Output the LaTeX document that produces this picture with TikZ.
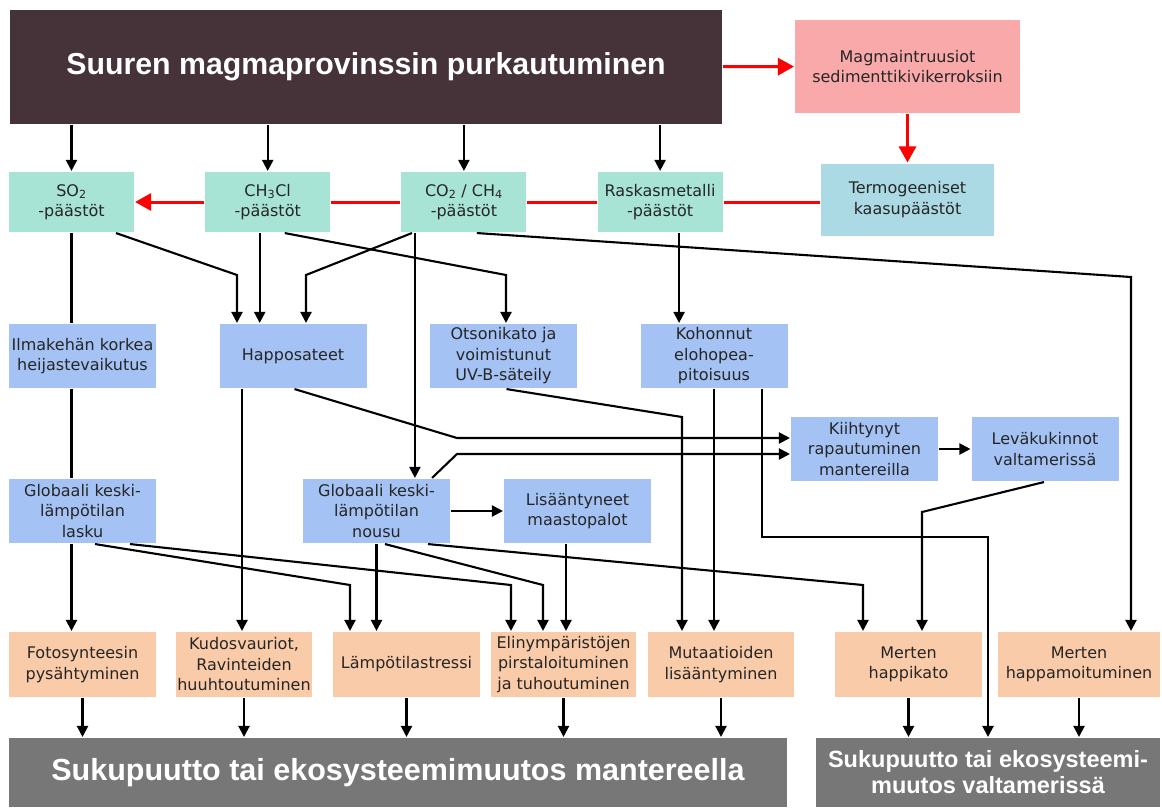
\documentclass[tikz,border=0pt]{standalone}
\usepackage{fontspec}
\setmainfont{DejaVu Sans}
\newfontfamily\headfont{Liberation Sans}
\usetikzlibrary{arrows.meta,positioning}
\definecolor{lipdark}{HTML}{463339}
\definecolor{intrpink}{HTML}{F9A9A9}
\definecolor{gasblue}{HTML}{ABD9E4}
\definecolor{emisgreen}{HTML}{A8E4D5}
\definecolor{effblue}{HTML}{A4C2F4}
\definecolor{impactorange}{HTML}{F9CBA8}
\definecolor{endgrey}{HTML}{777777}

\begin{document}
\begin{tikzpicture}[x=1pt,y=-1pt,->,>={Triangle[length=11pt,width=11pt]},
                    line width=2.1pt,node distance=196.2pt,
  box/.style={rectangle,inner sep=0pt,align=center,text=black!85,
              font=\fontsize{16}{20.5}\selectfont},
  emis/.style={box,fill=emisgreen,minimum width=125pt,minimum height=60pt},
  effect/.style={box,fill=effblue,minimum width=147pt,minimum height=64pt},
  impact/.style={box,fill=impactorange,minimum width=147pt,minimum height=65pt},
  outcome/.style={rectangle,inner sep=0pt,align=center,fill=endgrey,text=white,
              minimum height=69pt,font=\headfont\bfseries\fontsize{30.5}{30}\selectfont},
  redline/.style={-,draw=red,line width=3pt},
  redarrow/.style={redline,-{Triangle[length=16pt,width=17pt]}}]

 \useasboundingbox (0,0) rectangle (1162,807);

 % sources
 \node[rectangle,fill=lipdark,text=white,minimum width=712pt,minimum height=114pt,
       font=\headfont\bfseries\fontsize{30.3}{36}\selectfont] (lip) at (366,67)
       {Suuren magmaprovinssin purkautuminen};
 \node[box,fill=intrpink,minimum width=225pt,minimum height=93pt] (intr) at (907.5,66.5)
       {Magmaintruusiot\\sedimenttikivikerroksiin};
 \node[box,fill=gasblue,minimum width=173pt,minimum height=72pt] (termo) at (907.5,199.5)
       {Termogeeniset\\kaasupäästöt};

 % emissions
 \node[emis] (so2) at (71.5,202)   {SO\textsubscript{2}\\-päästöt};
 \node[emis] (ch3cl) [right of=so2] {CH\textsubscript{3}Cl\\-päästöt};
 \node[emis] (co2) [right of=ch3cl] {CO\textsubscript{2} / CH\textsubscript{4}\\-päästöt};
 \node[emis] (metal) [right of=co2] {Raskasmetalli\\-päästöt};

 % effects
 \node[effect] (ilma) at (82.5,356) {Ilmakehän korkea\\heijastevaikutus};
 \node[effect] (acid) [right of=ilma,node distance=210.5pt] {Happosateet};
 \node[effect] (ozone) [right of=acid,node distance=210.5pt] {Otsonikato ja\\voimistunut\\UV-B-säteily};
 \node[effect] (hg) [right of=ozone,node distance=210.5pt] {Kohonnut\\elohopea-\\pitoisuus};
 \node[effect] (weather) at (864.5,449) {Kiihtynyt\\rapautuminen\\mantereilla};
 \node[effect] (algae) [right of=weather,node distance=180.5pt] {Leväkukinnot\\valtamerissä};
 \node[effect] (cool) at (82.5,511) {Globaali keski-\\lämpötilan\\lasku};
 \node[effect] (warm) at (376.5,511) {Globaali keski-\\lämpötilan\\nousu};
 \node[effect] (fires) [right of=warm,node distance=201pt] {Lisääntyneet\\maastopalot};

 % impacts
 \node[impact] (photo) at (82.5,664.5) {Fotosynteesin\\pysähtyminen};
 \node[impact,minimum width=136pt] (tissue) at (244,664.5) {Kudosvauriot,\\Ravinteiden\\huuhtoutuminen};
 \node[impact] (heat) at (406.5,664.5) {Lämpötilastressi};
 \node[impact,minimum width=145pt] (habitat) at (563.5,664.5) {Elinympäristöjen\\pirstaloituminen\\ja tuhoutuminen};
 \node[impact,minimum width=146pt] (mutat) at (721,664.5) {Mutaatioiden\\lisääntyminen};
 \node[impact] (hypox) at (908.5,664.5) {Merten\\happikato};
 \node[impact,minimum width=162pt] (acidif) at (1079,664.5) {Merten\\happamoituminen};

 % outcomes
 \node[outcome,minimum width=778pt] (land) at (398,772.5)
       {Sukupuutto tai ekosysteemimuutos mantereella};
 \node[outcome,minimum width=344pt,font=\headfont\bfseries\fontsize{23.5}{26}\selectfont]
       (sea) at (988,772.5) {Sukupuutto tai ekosysteemi-\\muutos valtamerissä};

 % bends
 \coordinate (sa) at (237,275);
 \coordinate (ca) at (306,275);
 \coordinate (co) at (506,275);
 \coordinate (cm) at (1131,277);
 \coordinate (aw) at (457,438);
 \coordinate (ww) at (457,454);
 \coordinate (om) at (682,417);
 \coordinate (hs) at (762,537);
 \coordinate (ah) at (922,512);
 \coordinate (ch) at (350,585);
 \coordinate (cb) at (511,585);
 \coordinate (wb) at (543,585);
 \coordinate (wh) at (863,585);

 % red chain
 \draw[redarrow] (lip) -- (intr);
 \draw[redarrow] (intr) -- (termo);
 \draw[redline] (termo.west |- metal) -- (metal) (metal) -- (co2) (co2) -- (ch3cl);
 \draw[redarrow] (ch3cl) -- (so2);

 \foreach \n in {so2,ch3cl,co2,metal}
   \draw (\n |- lip.south) -- (\n);

 % so2 column
 \draw[-] (so2.south) -- (so2.south |- ilma.north)
          (so2.south |- ilma.south) -- (so2.south |- cool.north);
 \draw (so2.south |- cool.south) -- (so2.south |- photo.north);

 \draw ([xshift=44.5pt]so2.south) -- (sa) -- (sa |- acid.north);
 \draw ([xshift=-8pt]ch3cl.south) -- ([xshift=-8pt]ch3cl.south |- acid.north);
 \draw ([xshift=-52pt]co2.south) -- (ca) -- (ca |- acid.north);
 \draw ([xshift=17pt]ch3cl.south) -- (co) -- (co |- ozone.north);
 \draw ([xshift=-49pt]co2.south) -- ([xshift=-49pt]co2.south |- warm.north);
 \draw ([xshift=19pt]metal.south) -- ([xshift=19pt]metal.south |- hg.north);
 \draw ([xshift=13pt]co2.south) -- (cm) -- (cm |- acidif.north);

 \draw ([xshift=1.5pt]acid.south) -- (aw) -- (weather.west |- aw);
 \draw ([xshift=55.5pt]warm.north) -- (ww) -- (weather.west |- ww);
 \draw ([xshift=3pt]ozone.south) -- (om) -- (om |- mutat.north);
 \draw (hg.south) -- (hg.south |- mutat.north);
 \draw ([xshift=48pt]hg.south) -- (hs) -| (sea.north);
 \draw (weather) -- (algae);
 \draw ([xshift=-1pt]algae.south) -- (ah) -- (ah |- hypox.north);
 \draw (warm) -- (fires);
 \draw ([xshift=-11.5pt]fires.south) -- ([xshift=-11.5pt]fires.south |- habitat.north);
 \draw (warm.south) -- (warm.south |- heat.north);
 \draw ([xshift=8.5pt]warm.south) -- (wb) -- (wb |- habitat.north);
 \draw ([xshift=51.5pt]warm.south) -- (wh) -- (wh |- hypox.north);
 \draw ([xshift=12.5pt]cool.south) -- (ch) -- (ch |- heat.north);
 \draw ([xshift=47.5pt]cool.south) -- (cb) -- (cb |- habitat.north);
 \draw ([xshift=-51pt]acid.south) -- ([xshift=-51pt]acid.south |- tissue.north);

 % to outcomes
 \foreach \n in {photo,tissue,heat,habitat,mutat}
   \draw (\n.south) -- (\n.south |- land.north);
 \foreach \n in {hypox,acidif}
   \draw (\n.south) -- (\n.south |- sea.north);

\end{tikzpicture}
\end{document}
